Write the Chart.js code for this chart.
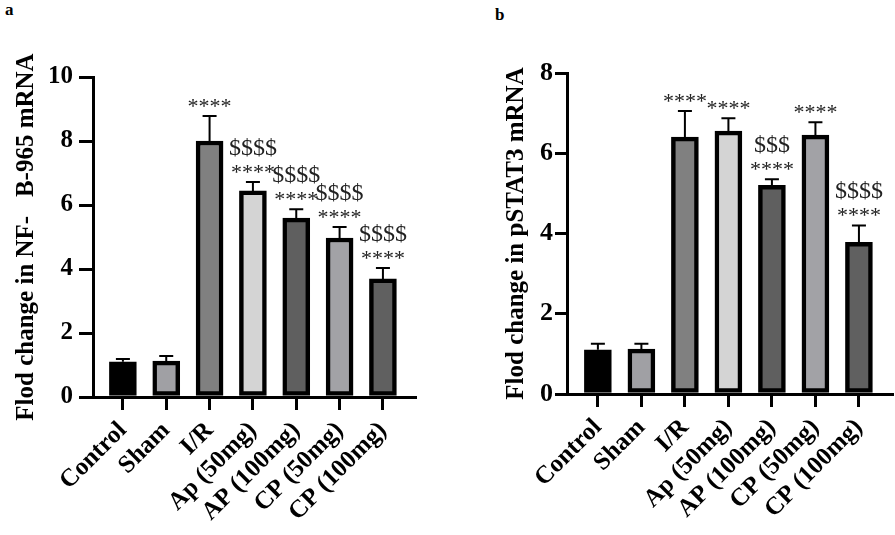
<!DOCTYPE html>
<html>
<head>
<meta charset="utf-8">
<script src="https://cdn.jsdelivr.net/npm/chart.js@4.4.1/dist/chart.umd.min.js"></script>
<style>
  body { margin: 0; background: #fff; width: 895px; height: 535px; position: relative; overflow: hidden; }
  .panel { position: absolute; top: 0; height: 535px; }
  .tag { position: absolute; font: bold 17px 'Liberation Serif', serif; color: #000; }
</style>
</head>
<body>
<div class="tag" style="left:5px; top:0px;">a</div>
<div class="tag" style="left:495px; top:5px;">b</div>
<div class="panel" style="left:0; width:447px;"><canvas id="chartA"></canvas></div>
<div class="panel" style="left:447px; width:448px;"><canvas id="chartB"></canvas></div>
<script>
        // Groupes
        const categories = ['Control', 'Sham', 'I/R', 'Ap (50mg)', 'AP (100mg)', 'CP (50mg)', 'CP (100mg)'];
        const barColors = ['#000000', '#a0a0a4', '#808080', '#d4d4d4', '#5f5f5f', '#a2a2a6', '#606060'];

        // Panneau a : NF-kB
        const nfkbValues = [1.1, 1.12, 8.0, 6.44, 5.59, 4.97, 3.69];
        const nfkbErrors = [0.09, 0.16, 0.78, 0.28, 0.28, 0.34, 0.34];
        const nfkbStars = ['', '', '****', '****', '****', '****', '****'];
        const nfkbDollars = ['', '', '', '$$$$', '$$$$', '$$$$', '$$$$'];

        // Panneau b : pSTAT3
        const stat3Values = [1.1, 1.12, 6.4, 6.55, 5.2, 6.45, 3.78];
        const stat3Errors = [0.15, 0.13, 0.65, 0.32, 0.15, 0.32, 0.42];
        const stat3Stars = ['', '', '****', '****', '****', '****', '****'];
        const stat3Dollars = ['', '', '', '', '$$$', '', '$$$$'];

        const serif = "'Liberation Serif', 'Times New Roman', serif";
        Chart.defaults.font.family = serif;
        Chart.defaults.color = '#000';

        // Barres d'erreur et annotations
        function errorBarPlugin(values, errors, stars, dollars) {
            return {
                id: 'errorBars',
                afterDatasetsDraw(chart) {
                    const ctx = chart.ctx;
                    const xs = chart.scales.x;
                    const ys = chart.scales.y;
                    ctx.save();
                    values.forEach((v, i) => {
                        const x = xs.getPixelForValue(i);
                        const y0 = ys.getPixelForValue(v);
                        const y1 = ys.getPixelForValue(v + errors[i]);
                        ctx.strokeStyle = '#000';
                        ctx.lineWidth = 2;
                        ctx.beginPath();
                        ctx.moveTo(x, y0);
                        ctx.lineTo(x, y1);
                        ctx.moveTo(x - 7, y1);
                        ctx.lineTo(x + 7, y1);
                        ctx.stroke();
                        ctx.fillStyle = '#222';
                        ctx.textAlign = 'center';
                        ctx.textBaseline = 'alphabetic';
                        ctx.font = '22px ' + serif;
                        ctx.fillText(stars[i], x, y1 - 3);
                        ctx.font = '24px ' + serif;
                        ctx.fillText(dollars[i], x, y1 - 27);
                    });
                    ctx.restore();
                }
            };
        }

        function noPadding(s) {
            s.paddingLeft = 0;
            s.paddingRight = 0;
            s.paddingTop = 0;
            s.paddingBottom = 0;
        }

        function makeChart(id, values, errors, stars, dollars, cfg) {
            const ctx = document.getElementById(id).getContext('2d');
            return new Chart(ctx, {
                type: 'bar',
                data: {
                    datasets: [{
                        data: values.map((v, i) => ({ x: i, y: v })),
                        backgroundColor: barColors,
                        borderColor: '#000',
                        borderWidth: 4.5,
                        borderSkipped: false,
                        barThickness: 27
                    }]
                },
                options: {
                    responsive: true,
                    maintainAspectRatio: false,
                    animation: false,
                    layout: { padding: { top: cfg.top, right: cfg.right, left: 0, bottom: 0 } },
                    plugins: { legend: { display: false }, tooltip: { enabled: false } },
                    scales: {
                        x: {
                            type: 'linear',
                            offset: false,
                            min: cfg.xMin,
                            max: cfg.xMax,
                            afterBuildTicks: s => { s.ticks = categories.map((c, i) => ({ value: i })); },
                            afterFit: s => { s.height = cfg.xHeight; noPadding(s); },
                            ticks: {
                                callback: v => categories[v],
                                autoSkip: false,
                                minRotation: 45,
                                maxRotation: 45,
                                padding: 6,
                                font: { family: serif, size: 25, weight: 700 }
                            },
                            grid: { offset: false, drawOnChartArea: false, tickLength: 13, color: '#000', lineWidth: 3 },
                            border: { color: '#000', width: 3 }
                        },
                        y: {
                            min: 0,
                            max: cfg.yMax,
                            afterFit: s => { s.width = cfg.yWidth; noPadding(s); },
                            ticks: {
                                stepSize: 2,
                                padding: cfg.tickPad,
                                color: '#000',
                                font: { family: serif, size: cfg.tickSize, weight: 700 }
                            },
                            title: {
                                display: true,
                                text: cfg.title,
                                padding: { top: cfg.titlePad, bottom: 0 },
                                font: { family: serif, size: 25, weight: 700 }
                            },
                            grid: { drawOnChartArea: false, tickLength: cfg.yTick, color: '#000', lineWidth: 3 },
                            border: { color: '#000', width: 3 }
                        }
                    }
                },
                plugins: [errorBarPlugin(values, errors, stars, dollars)]
            });
        }

        makeChart('chartA', nfkbValues, nfkbErrors, nfkbStars, nfkbDollars, {
            top: 77, right: 32, xMin: -0.69, xMax: 6.74, xHeight: 138,
            yMax: 10, yWidth: 93, tickPad: 6, tickSize: 25, yTick: 14, titlePad: 12,
            title: 'Flod change in NF-   B-965 mRNA'
        });

        makeChart('chartB', stat3Values, stat3Errors, stat3Stars, stat3Dollars, {
            top: 73, right: 3, xMin: -0.71, xMax: 6.76, xHeight: 141,
            yMax: 8, yWidth: 120, tickPad: 2, tickSize: 26, yTick: 12, titlePad: 55,
            title: 'Flod change in pSTAT3 mRNA'
        });
</script>
</body>
</html>
